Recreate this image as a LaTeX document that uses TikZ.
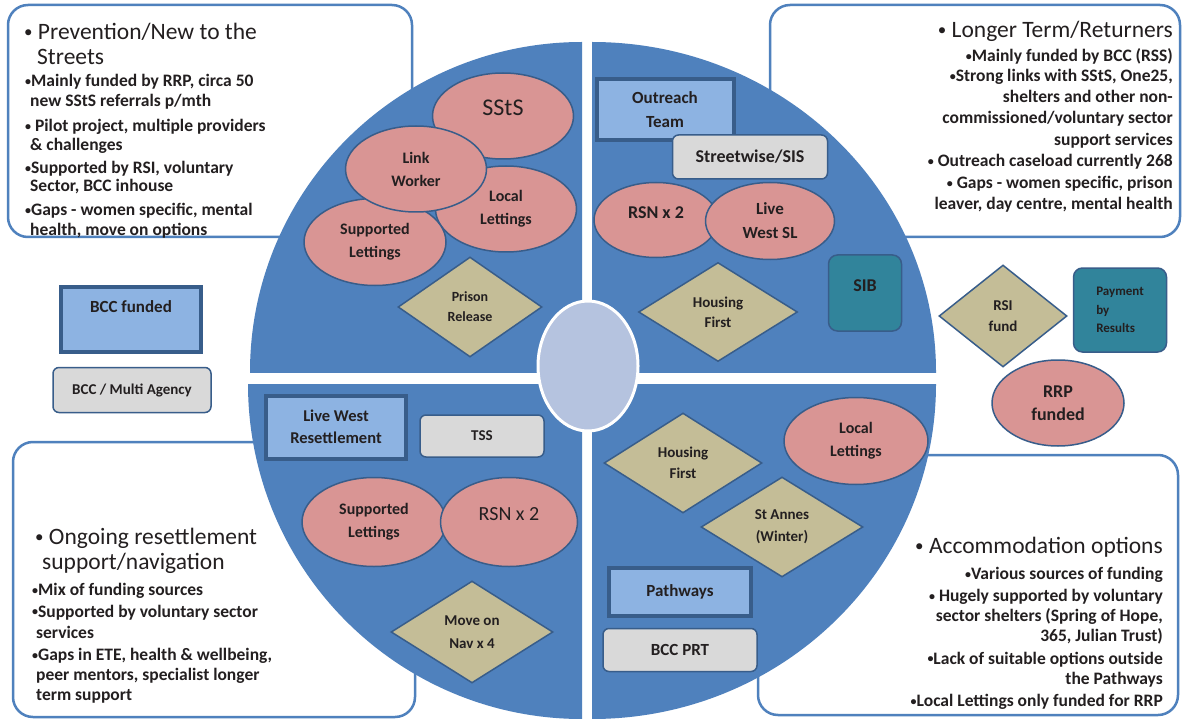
\documentclass[tikz,border=0pt]{standalone}
\usepackage{fontspec}
\setmainfont{Carlito}
\usetikzlibrary{shapes.geometric}
\definecolor{qblue}{HTML}{4F81BD}
\definecolor{cenf}{HTML}{B5C3DF}
\definecolor{pinkf}{HTML}{D99594}
\definecolor{tanf}{HTML}{C4BD97}
\definecolor{lbluef}{HTML}{8DB3E2}
\definecolor{greyf}{HTML}{D9D9D9}
\definecolor{tealf}{HTML}{31849B}
\definecolor{edge}{HTML}{385D8A}
\definecolor{txt}{HTML}{231F20}
\newcommand\sbul{{\fontsize{12}{12}\selectfont\raisebox{1.4pt}{•}}}
\newcommand\hbul{{\fontsize{17}{17}\selectfont\raisebox{1.8pt}{•}}}
\tikzset{
  tbx/.style={rectangle, rounded corners=20pt, draw=qblue, line width=2.5pt, fill=white, inner sep=0},
  body/.style={font=\bfseries\fontsize{17.5}{20}\selectfont, text=txt, inner sep=0},
  hdr/.style={font=\fontsize{23.5}{25}\selectfont, text=txt, inner sep=0},
  pinkel/.style={ellipse, draw=edge, line width=1.5pt, fill=pinkf, inner sep=0, align=center, text=txt,
    font=\bfseries\fontsize{16}{23}\selectfont},
  dia/.style={diamond, draw=edge, line width=1.5pt, fill=tanf, inner sep=0, align=center, text=txt,
    font=\bfseries\fontsize{14}{20}\selectfont},
  lbox/.style={rectangle, draw=edge, line width=4pt, fill=lbluef, inner sep=0, align=center, text=txt,
    font=\bfseries\fontsize{17}{24}\selectfont},
  gbox/.style={rectangle, rounded corners=6pt, draw=edge, line width=1.5pt, fill=greyf, inner sep=0, align=center, text=txt,
    font=\bfseries\fontsize{17}{22}\selectfont},
  tbox/.style={rectangle, rounded corners=9pt, draw=edge, line width=1.5pt, fill=tealf, inner sep=0, align=center, text=txt,
    font=\bfseries\fontsize{18}{22}\selectfont},
}
\begin{document}
\begin{tikzpicture}[x=1pt,y=-1pt]
\useasboundingbox (0,0) rectangle (1185,719);
\fill[white] (0,0) rectangle (1185,719);

% text boxes (behind the circle)
\node[tbx, minimum width=404, minimum height=232] (tlbox) at (210,121) {};
\node[tbx, minimum width=410, minimum height=232] (trbox) at (975,121) {};
\node[tbx, minimum width=402, minimum height=275] (blbox) at (214,579.5) {};
\node[tbx, minimum width=420, minimum height=260] (brbox) at (968,585) {};

% quadrants
\begin{scope}
  \clip (230,20) rectangle (582,372);
  \fill[qblue] (582,372) ellipse [x radius=332, y radius=330];
\end{scope}
\begin{scope}
  \clip (592,20) rectangle (960,372);
  \fill[qblue] (592,372) ellipse [x radius=344, y radius=330];
\end{scope}
\begin{scope}
  \clip (230,384) rectangle (582,719);
  \fill[qblue] (582,384) ellipse [x radius=334, y radius=335];
\end{scope}
\begin{scope}
  \clip (592,384) rectangle (960,719);
  \fill[qblue] (592,384) ellipse [x radius=344, y radius=335];
\end{scope}

% hub
\node[ellipse, fill=cenf, draw=white, line width=3pt, minimum width=100, minimum height=130] (hub) at (588,366) {};

% top-left quadrant
\node[pinkel, minimum width=141, minimum height=86] (tlloc) at (506,209) {Local\\Lettings};
\node[pinkel, minimum width=142, minimum height=87] (tlsup) at (375,242) {Supported\\Lettings};
\node[pinkel, minimum width=141, minimum height=86, font=\fontsize{24}{26}\selectfont, text depth=16pt] (tlssts) at (503,116) {SStS};
\node[pinkel, minimum width=141, minimum height=86] (tllink) at (416,169) {Link\\Worker};
\node[dia, minimum width=144, minimum height=100] (tlpris) at (470,307) {Prison\\Release};

% top-right quadrant
\node[lbox, minimum width=137, minimum height=61] (trout) at (665,110) {Outreach\\Team};
\node[gbox, minimum width=155, minimum height=44, font=\bfseries\fontsize{18}{22}\selectfont] (trstreet) at (750,157) {Streetwise/SIS};
\node[pinkel, minimum width=124, minimum height=75, font=\bfseries\fontsize{18}{22}\selectfont, text depth=14pt] (trrsn) at (656,220) {RSN x 2};
\node[pinkel, minimum width=129, minimum height=77, font=\bfseries\fontsize{17}{24}\selectfont] (trlive) at (770,221) {Live\\West SL};
\node[dia, minimum width=159, minimum height=99, font=\bfseries\fontsize{15}{20}\selectfont] (trhf) at (718,312) {Housing\\First};
\node[tbox, minimum width=73, minimum height=76, text depth=14pt] (trsib) at (865,293) {SIB};

% bottom-left quadrant
\node[lbox, minimum width=140, minimum height=63, font=\bfseries\fontsize{16.5}{22}\selectfont] (bllive) at (336,427) {Live West\\Resettlement};
\node[gbox, minimum width=124, minimum height=42, font=\bfseries\fontsize{15}{20}\selectfont] (bltss) at (482,436) {TSS};
\node[pinkel, minimum width=144, minimum height=89] (blsup) at (374,522) {Supported\\Lettings};
\node[pinkel, minimum width=137, minimum height=89, font=\fontsize{20}{24}\selectfont, text depth=16pt] (blrsn) at (509,522) {RSN x 2};
\node[dia, minimum width=162, minimum height=102, font=\bfseries\fontsize{15}{23}\selectfont] (blmove) at (472,632) {Move on\\Nav x 4};

% bottom-right quadrant
\node[pinkel, minimum width=144, minimum height=87] (brloc) at (856,441) {Local\\Lettings};
\node[dia, minimum width=158, minimum height=100, font=\bfseries\fontsize{15}{21}\selectfont] (brhf) at (683,463) {Housing\\First};
\node[dia, minimum width=162, minimum height=100, font=\bfseries\fontsize{15}{22}\selectfont] (brst) at (782,527) {St Annes\\(Winter)};
\node[lbox, minimum width=142, minimum height=48] (brpath) at (680,592) {Pathways};
\node[gbox, minimum width=154, minimum height=43] (brprt) at (680,650) {BCC PRT};

% legend left
\node[lbox, minimum width=140, minimum height=65, text height=12pt, text depth=25pt] (lgbcc) at (131,319) {BCC funded};
\node[gbox, minimum width=158, minimum height=45, font=\bfseries\fontsize{15}{20}\selectfont] (lgmulti) at (132,390) {BCC / Multi Agency};

% legend right
\node[dia, minimum width=128, minimum height=102, font=\bfseries\fontsize{15}{21}\selectfont] (lgrsi) at (1003,316) {RSI\\fund};
\node[tbox, minimum width=93, minimum height=84, align=left, font=\bfseries\fontsize{13}{18.5}\selectfont] (lgpbr) at (1120,310) {Payment\\by\\Results};
\node[pinkel, minimum width=132, minimum height=86, font=\bfseries\fontsize{18}{23}\selectfont] (lgrrp) at (1058,403) {RRP\\funded};

% top-left text
\node[hdr, anchor=base west] (tlh1) at (24,39.5) {\hbul\ Prevention/New to the};
\node[hdr, anchor=base west] (tlh2) at (37,64.5) {Streets};
\node[body, anchor=base west] (tlb1) at (25,87) {\sbul Mainly funded by RRP, circa 50};
\node[body, anchor=base west] (tlb2) at (30,107) {new SStS referrals p/mth};
\node[body, anchor=base west] (tlb3) at (25,132) {\sbul\ Pilot project, multiple providers};
\node[body, anchor=base west] (tlb4) at (30,150.5) {\& challenges};
\node[body, anchor=base west] (tlb5) at (25,173.5) {\sbul Supported by RSI, voluntary};
\node[body, anchor=base west] (tlb6) at (30,192) {Sector, BCC inhouse};
\node[body, anchor=base west] (tlb7) at (25,216) {\sbul Gaps - women specific, mental};
\node[body, anchor=base west] (tlb8) at (30,235.5) {health, move on options};

% top-right text
\node[hdr, anchor=base east] (trh1) at (1173,37.5) {\hbul\ Longer Term/Returners};
\node[body, anchor=base east] (trb1) at (1173,61.5) {\sbul Mainly funded by BCC (RSS)};
\node[body, anchor=base east] (trb2) at (1173,82) {\sbul Strong links with SStS, One25,};
\node[body, anchor=base east] (trb3) at (1173,103) {shelters and other non-};
\node[body, anchor=base east] (trb4) at (1173,124) {commissioned/voluntary sector};
\node[body, anchor=base east] (trb5) at (1173,145.5) {support services};
\node[body, anchor=base east] (trb6) at (1173,167) {\sbul\ Outreach caseload currently 268};
\node[body, anchor=base east] (trb7) at (1173,189) {\sbul\ Gaps - women specific, prison};
\node[body, anchor=base east] (trb8) at (1173,209.5) {leaver, day centre, mental health};

% bottom-left text
\node[hdr, anchor=base west] (blh1) at (35,544) {\hbul\ Ongoing resettlement};
\node[hdr, anchor=base west] (blh2) at (42,569) {support/navigation};
\node[body, anchor=base west] (blb1) at (32,595.5) {\sbul Mix of funding sources};
\node[body, anchor=base west] (blb2) at (32,617) {\sbul Supported by voluntary sector};
\node[body, anchor=base west] (blb3) at (36,638) {services};
\node[body, anchor=base west] (blb4) at (32,660.5) {\sbul Gaps in ETE, health \& wellbeing,};
\node[body, anchor=base west] (blb5) at (36,680.5) {peer mentors, specialist longer};
\node[body, anchor=base west] (blb6) at (36,700.5) {term support};

% bottom-right text
\node[hdr, anchor=base east] (brh1) at (1163,553.5) {\hbul\ Accommodation options};
\node[body, anchor=base east] (brb1) at (1163,579.5) {\sbul Various sources of funding};
\node[body, anchor=base east] (brb2) at (1163,601.5) {\sbul\ Hugely supported by voluntary};
\node[body, anchor=base east] (brb3) at (1163,621.5) {sector shelters (Spring of Hope,};
\node[body, anchor=base east] (brb4) at (1163,641.5) {365, Julian Trust)};
\node[body, anchor=base east] (brb5) at (1163,664) {\sbul Lack of suitable options outside};
\node[body, anchor=base east] (brb6) at (1163,684) {the Pathways};
\node[body, anchor=base east] (brb7) at (1163,706.5) {\sbul Local Lettings only funded for RRP};
\end{tikzpicture}
\end{document}
